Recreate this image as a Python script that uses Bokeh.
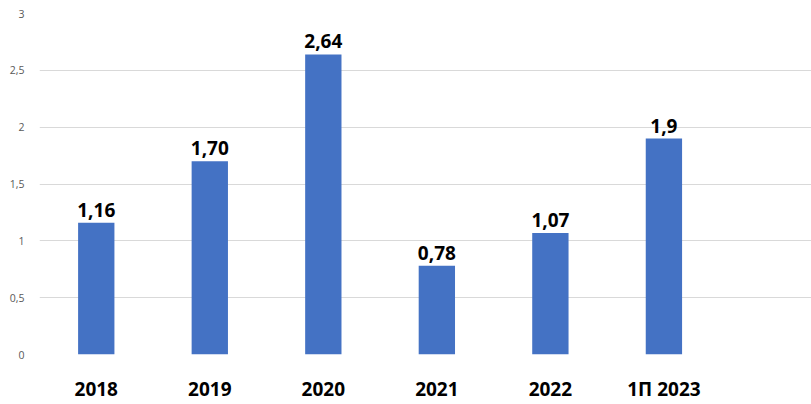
from bokeh.plotting import figure
from bokeh.models import ColumnDataSource, Range1d, FixedTicker, LabelSet
from bokeh.core.properties import value
from bokeh.embed import file_html
from bokeh.resources import INLINE

categories = ["2018", "2019", "2020", "2021", "2022", "1П 2023"]
values = [1.16, 1.70, 2.64, 0.78, 1.07, 1.9]
value_labels = ["1,16", "1,70", "2,64", "0,78", "1,07", "1,9"]
y_ticks = [0, 0.5, 1, 1.5, 2, 2.5, 3]
y_tick_labels = ["0", "0,5", "1", "1,5", "2", "2,5", "3"]

xs = list(range(len(categories)))
src = ColumnDataSource(dict(x=xs, top=values, lab=value_labels))

p = figure(width=811, height=404, output_backend="svg", toolbar_location=None,
           x_range=Range1d(-0.5, 6.3), y_range=Range1d(0, 3),
           min_border_left=39, min_border_right=0, min_border_top=13, min_border_bottom=40)
p.outline_line_color = None
p.background_fill_color = "white"
p.border_fill_color = "white"

p.vbar(x="x", top="top", width=0.32, bottom=0, source=src, color="#4472C4", line_color=None)

labels = LabelSet(x="x", y="top", text="lab", source=src, text_align="center",
                  text_baseline="bottom", y_offset=6, text_font=value("Open Sans"),
                  text_font_style="bold", text_font_size="19px", text_color="black")
p.add_layout(labels)

p.xgrid.grid_line_color = None
p.ygrid.grid_line_color = "#d9d9d9"
p.ygrid.ticker = FixedTicker(ticks=y_ticks)

p.yaxis.ticker = FixedTicker(ticks=y_ticks)
p.yaxis.major_label_overrides = {t: l for t, l in zip(y_ticks, y_tick_labels)}
p.yaxis.axis_line_color = None
p.yaxis.major_tick_line_color = None
p.yaxis.minor_tick_line_color = None
p.yaxis.major_label_text_font = "Open Sans"
p.yaxis.major_label_text_font_size = "10.5px"
p.yaxis.major_label_text_color = "#595959"
p.yaxis.major_label_standoff = 9

p.xaxis.ticker = FixedTicker(ticks=xs)
p.xaxis.major_label_overrides = {i: c for i, c in zip(xs, categories)}
p.xaxis.axis_line_color = None
p.xaxis.major_tick_line_color = None
p.xaxis.minor_tick_line_color = None
p.xaxis.major_label_text_font = "Open Sans"
p.xaxis.major_label_text_font_style = "bold"
p.xaxis.major_label_text_font_size = "19px"
p.xaxis.major_label_text_color = "black"
p.xaxis.major_label_standoff = 15

open("out.html", "w").write(file_html(p, INLINE))
